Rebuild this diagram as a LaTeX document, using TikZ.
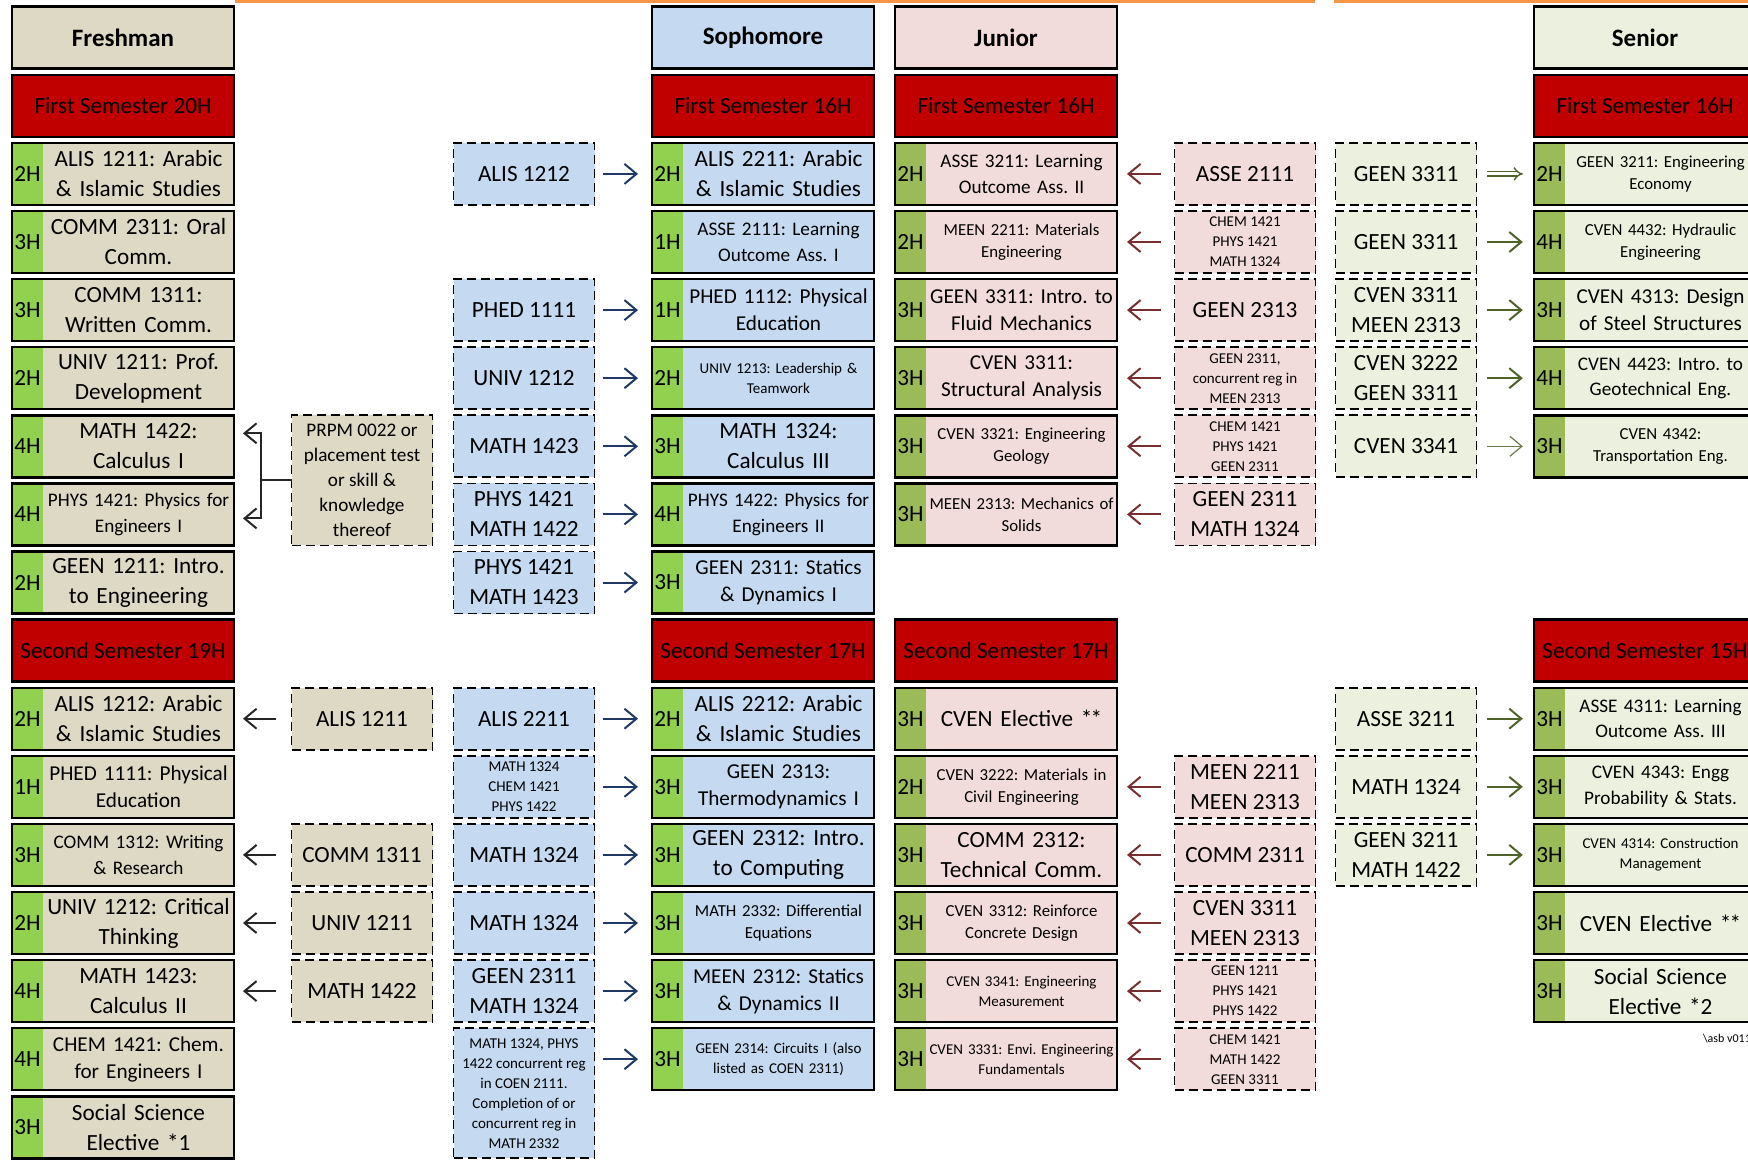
\documentclass[tikz,border=0pt]{standalone}
\usepackage{fontspec}
\setmainfont{Carlito}
\frenchspacing
\usetikzlibrary{positioning,arrows.meta}

\definecolor{freshfill}{HTML}{DDD9C4}
\definecolor{sophfill}{HTML}{C5D9F1}
\definecolor{junfill}{HTML}{F2DCDB}
\definecolor{senfill}{HTML}{EBF1DE}
\definecolor{semred}{HTML}{C00000}
\definecolor{hrsgreen}{HTML}{92D050}
\definecolor{hrsolive}{HTML}{9BBB59}
\definecolor{topline}{HTML}{F79646}
\definecolor{fresharr}{HTML}{262626}
\definecolor{sopharr}{HTML}{1F3864}
\definecolor{junarr}{HTML}{772E2E}
\definecolor{senarr}{HTML}{4F6228}

\begin{document}
\begin{tikzpicture}[node distance=3.05pt and 28.75pt,
  tbig/.style={font=\fontsize{11.6}{15}\selectfont},
  tmed/.style={font=\fontsize{10.6}{13.6}\selectfont},
  tmid/.style={font=\fontsize{9.6}{12.6}\selectfont},
  tsml/.style={font=\fontsize{8.4}{11}\selectfont},
  ttny/.style={font=\fontsize{7.5}{10}\selectfont},
  yearbox/.style={draw, line width=1.2pt, minimum width=111pt, minimum height=31pt,
    inner sep=0pt, outer sep=0pt, font=\fontsize{12.5}{15}\selectfont\bfseries},
  sembox/.style={yearbox, fill=semred, font=\fontsize{11.6}{14}\selectfont},
  crs/.style={draw, line width=1.2pt, minimum width=111pt, minimum height=31pt,
    inner xsep=0.5pt, inner ysep=0pt, outer sep=0pt, text width=110pt, align=center,
    execute at begin node={\leftskip=15.5pt plus 1fil\rightskip=0pt plus 1fil%
      \parfillskip=0pt\let\\=\endgraf},
    label={[hrs]west:#1}},
  hrs/.style={anchor=center, xshift=7.75pt, inner sep=0pt, font=\fontsize{11.6}{14}\selectfont},
  hstrip/.style={path picture={\fill[#1] (path picture bounding box.north west)
    rectangle ([xshift=15.5pt]path picture bounding box.south west);}},
  fcrs/.style={crs=#1, fill=freshfill, hstrip=hrsgreen},
  scrs/.style={crs=#1, fill=sophfill, hstrip=hrsgreen},
  jcrs/.style={crs=#1, fill=junfill, hstrip=hrsolive},
  ncrs/.style={crs=#1, fill=senfill, hstrip=hrsolive},
  pre/.style={draw, dash pattern=on 4.5pt off 2.5pt, line width=0.9pt, minimum width=70.5pt,
    minimum height=31pt, inner sep=0pt, outer sep=0pt, align=center},
  fpre/.style={pre, fill=freshfill},
  spre/.style={pre, fill=sophfill},
  jpre/.style={pre, fill=junfill},
  npre/.style={pre, fill=senfill},
  arr/.style={line width=1pt, -{Straight Barb[length=6pt, width=10pt]}},
  farr/.style={arr, draw=fresharr, shorten <=7.8pt, shorten >=4.5pt},
  sarr/.style={arr, draw=sopharr, shorten <=4pt, shorten >=7pt},
  jarr/.style={arr, draw=junarr, shorten <=6.8pt, shorten >=5pt},
  narr/.style={arr, draw=senarr, shorten <=5pt, shorten >=5.6pt},
  narr2/.style={draw=senarr, line width=0.7pt, double=white, double distance=1.6pt,
    -{Implies}, shorten <=5pt, shorten >=5.6pt}]

  \useasboundingbox (0,0) rectangle (874pt,-580pt);
  \draw[topline, line width=1.6pt] (117.5pt,-0.8pt) -- (657.5pt,-0.8pt)
    (667pt,-0.8pt) -- (874pt,-0.8pt);

  % Freshman
  \node[yearbox, fill=freshfill] (fresh) at (61.5pt,-18.85pt) {Freshman};
  \node[sembox, below=of fresh] (fr sem1) {First Semester 20H};
  \node[fcrs=2H, tbig, below=of fr sem1] (fr 1) {ALIS 1211: Arabic\\ \& Islamic Studies};
  \node[fcrs=3H, tbig, below=of fr 1] (fr 2) {COMM 2311: Oral\\ Comm.};
  \node[fcrs=3H, tbig, below=of fr 2] (fr 3) {COMM 1311:\\ Written Comm.};
  \node[fcrs=2H, tbig, below=of fr 3] (fr 4) {UNIV 1211: Prof.\\ Development};
  \node[fcrs=4H, tbig, below=of fr 4] (fr 5) {MATH 1422:\\ Calculus I};
  \node[fcrs=4H, tmid, below=of fr 5] (fr 6) {PHYS 1421: Physics for\\ Engineers I};
  \node[fcrs=2H, tbig, below=of fr 6] (fr 7) {GEEN 1211: Intro.\\ to Engineering};
  \node[sembox, below=of fr 7] (fr sem2) {Second Semester 19H};
  \node[fcrs=2H, tbig, below=of fr sem2] (fr 8) {ALIS 1212: Arabic\\ \& Islamic Studies};
  \node[fcrs=1H, tmed, below=of fr 8] (fr 9) {PHED 1111: Physical\\ Education};
  \node[fcrs=3H, tmid, below=of fr 9] (fr 10) {COMM 1312: Writing\\ \& Research};
  \node[fcrs=2H, tbig, below=of fr 10] (fr 11) {UNIV 1212: Critical\\ Thinking};
  \node[fcrs=4H, tbig, below=of fr 11] (fr 12) {MATH 1423:\\ Calculus II};
  \node[fcrs=4H, tmed, below=of fr 12] (fr 13) {CHEM 1421: Chem.\\ for Engineers I};
  \node[fcrs=3H, tbig, below=of fr 13] (fr 14) {Social Science\\ Elective *1};

  \node[fpre, tmid, minimum height=65.05pt, anchor=north west] (prpm)
    at ([xshift=28.75pt]fr 5.north east)
    {PRPM 0022 or\\ placement test\\ or skill \&\\ knowledge\\ thereof};
  \node[fpre, tbig, right=of fr 8] (fr p8) {ALIS 1211};
  \node[fpre, tbig, right=of fr 10] (fr p10) {COMM 1311};
  \node[fpre, tbig, right=of fr 11] (fr p11) {UNIV 1211};
  \node[fpre, tbig, right=of fr 12] (fr p12) {MATH 1422};

  \draw[line width=1pt, draw=fresharr] (prpm.west) -- ++(-15.5pt,0) coordinate (brk);
  \draw[farr, shorten <=0pt] (brk) |- ([yshift=6.5pt]fr 5.east);
  \draw[farr, shorten <=0pt] (brk) |- ([yshift=-2pt]fr 6.east);
  \draw[farr] (fr p8) -- (fr 8);
  \draw[farr] (fr p10) -- (fr 10);
  \draw[farr] (fr p11) -- (fr 11);
  \draw[farr] (fr p12) -- (fr 12);

  % Sophomore
  \node[yearbox, fill=sophfill, right=209pt of fresh] (soph) {Sophomore};
  \node[sembox, below=of soph] (so sem1) {First Semester 16H};
  \node[scrs=2H, tbig, below=of so sem1] (so 1) {ALIS 2211: Arabic\\ \& Islamic Studies};
  \node[scrs=1H, tmid, below=of so 1] (so 2) {ASSE 2111: Learning\\ Outcome Ass. I};
  \node[scrs=1H, tmed, below=of so 2] (so 3) {PHED 1112: Physical\\ Education};
  \node[scrs=2H, ttny, below=of so 3] (so 4) {UNIV 1213: Leadership \&\\ Teamwork};
  \node[scrs=3H, tbig, below=of so 4] (so 5) {MATH 1324:\\ Calculus III};
  \node[scrs=4H, tmid, below=of so 5] (so 6) {PHYS 1422: Physics for\\ Engineers II};
  \node[scrs=3H, tmed, below=of so 6] (so 7) {GEEN 2311: Statics\\ \& Dynamics I};
  \node[sembox, below=of so 7] (so sem2) {Second Semester 17H};
  \node[scrs=2H, tbig, below=of so sem2] (so 8) {ALIS 2212: Arabic\\ \& Islamic Studies};
  \node[scrs=3H, tmed, below=of so 8] (so 9) {GEEN 2313:\\ Thermodynamics I};
  \node[scrs=3H, tbig, below=of so 9] (so 10) {GEEN 2312: Intro.\\ to Computing};
  \node[scrs=3H, tsml, below=of so 10] (so 11) {MATH 2332: Differential\\ Equations};
  \node[scrs=3H, tmed, below=of so 11] (so 12) {MEEN 2312: Statics\\ \& Dynamics II};
  \node[scrs=3H, ttny, below=of so 12] (so 13) {GEEN 2314: Circuits I (also\\ listed as COEN 2311)};

  \node[spre, tbig, left=of so 1] (so p1) {ALIS 1212};
  \node[spre, tbig, left=of so 3] (so p3) {PHED 1111};
  \node[spre, tbig, left=of so 4] (so p4) {UNIV 1212};
  \node[spre, tbig, left=of so 5] (so p5) {MATH 1423};
  \node[spre, tbig, left=of so 6] (so p6) {PHYS 1421\\ MATH 1422};
  \node[spre, tbig, left=of so 7] (so p7) {PHYS 1421\\ MATH 1423};
  \node[spre, tbig, left=of so 8] (so p8) {ALIS 2211};
  \node[spre, ttny, left=of so 9] (so p9) {MATH 1324\\ CHEM 1421\\ PHYS 1422};
  \node[spre, tbig, left=of so 10] (so p10) {MATH 1324};
  \node[spre, tbig, left=of so 11] (so p11) {MATH 1324};
  \node[spre, tbig, left=of so 12] (so p12) {GEEN 2311\\ MATH 1324};
  \node[spre, ttny, minimum height=65.05pt, anchor=north east] (so p13)
    at ([xshift=-28.75pt]so 13.north west)
    {MATH 1324, PHYS\\ 1422 concurrent reg\\ in COEN 2111.\\ Completion of or\\ concurrent reg in\\ MATH 2332};

  \foreach \r in {1,3,4,5,6,7,8,9,10,11,12}
    \draw[sarr] (so p\r) -- (so \r);
  \draw[sarr] (so p13.east |- so 13) -- (so 13);

  % Junior
  \node[yearbox, fill=junfill, right=10.5pt of soph] (jun) {Junior};
  \node[sembox, below=of jun] (jr sem1) {First Semester 16H};
  \node[jcrs=2H, tmid, below=of jr sem1] (jr 1) {ASSE 3211: Learning\\ Outcome Ass. II};
  \node[jcrs=2H, tsml, below=of jr 1] (jr 2) {MEEN 2211: Materials\\ Engineering};
  \node[jcrs=3H, tmed, below=of jr 2] (jr 3) {GEEN 3311: Intro. to\\ Fluid Mechanics};
  \node[jcrs=3H, tmed, below=of jr 3] (jr 4) {CVEN 3311:\\ Structural Analysis};
  \node[jcrs=3H, tsml, below=of jr 4] (jr 5) {CVEN 3321: Engineering\\ Geology};
  \node[jcrs=3H, tsml, below=of jr 5] (jr 6) {MEEN 2313: Mechanics of\\ Solids};
  \node[sembox, right=10.5pt of so sem2] (jr sem2) {Second Semester 17H};
  \node[jcrs=3H, tbig, below=of jr sem2] (jr 7) {CVEN Elective *\kern-0.08em*};
  \node[jcrs=2H, tsml, below=of jr 7] (jr 8) {CVEN 3222: Materials in\\ Civil Engineering};
  \node[jcrs=3H, tbig, below=of jr 8] (jr 9) {COMM 2312:\\ Technical Comm.};
  \node[jcrs=3H, tsml, below=of jr 9] (jr 10) {CVEN 3312: Reinforce\\ Concrete Design};
  \node[jcrs=3H, ttny, below=of jr 10] (jr 11) {CVEN 3341: Engineering\\ Measurement};
  \node[jcrs=3H, ttny, below=of jr 11] (jr 12) {CVEN 3331: Envi. Engineering\\ Fundamentals};

  \node[jpre, tbig, right=of jr 1] (jr p1) {ASSE 2111};
  \node[jpre, ttny, right=of jr 2] (jr p2) {CHEM 1421\\ PHYS 1421\\ MATH 1324};
  \node[jpre, tbig, right=of jr 3] (jr p3) {GEEN 2313};
  \node[jpre, ttny, right=of jr 4] (jr p4) {GEEN 2311,\\ concurrent reg in\\ MEEN 2313};
  \node[jpre, ttny, right=of jr 5] (jr p5) {CHEM 1421\\ PHYS 1421\\ GEEN 2311};
  \node[jpre, tbig, right=of jr 6] (jr p6) {GEEN 2311\\ MATH 1324};
  \node[jpre, tbig, right=of jr 8] (jr p8) {MEEN 2211\\ MEEN 2313};
  \node[jpre, tbig, right=of jr 9] (jr p9) {COMM 2311};
  \node[jpre, tbig, right=of jr 10] (jr p10) {CVEN 3311\\ MEEN 2313};
  \node[jpre, ttny, right=of jr 11] (jr p11) {GEEN 1211\\ PHYS 1421\\ PHYS 1422};
  \node[jpre, ttny, right=of jr 12] (jr p12) {CHEM 1421\\ MATH 1422\\ GEEN 3311};

  \foreach \r in {1,2,3,4,5,6,8,9,10,11,12}
    \draw[jarr] (jr p\r) -- (jr \r);

  % Senior
  \node[yearbox, fill=senfill, right=208.5pt of jun] (sen) {Senior};
  \node[sembox, below=of sen] (sn sem1) {First Semester 16H};
  \node[ncrs=2H, tsml, below=of sn sem1] (sn 1) {GEEN 3211: Engineering\\ Economy};
  \node[ncrs=4H, tsml, below=of sn 1] (sn 2) {CVEN 4432: Hydraulic\\ Engineering};
  \node[ncrs=3H, tmed, below=of sn 2] (sn 3) {CVEN 4313: Design\\ of Steel Structures};
  \node[ncrs=4H, tmid, below=of sn 3] (sn 4) {CVEN 4423: Intro. to\\ Geotechnical Eng.};
  \node[ncrs=3H, tsml, below=of sn 4] (sn 5) {CVEN 4342:\\ Transportation Eng.};
  \node[sembox, right=208.5pt of jr sem2] (sn sem2) {Second Semester 15H};
  \node[ncrs=3H, tmid, below=of sn sem2] (sn 6) {ASSE 4311: Learning\\ Outcome Ass. III};
  \node[ncrs=3H, tmid, below=of sn 6] (sn 7) {CVEN 4343: Engg\\ Probability \& Stats.};
  \node[ncrs=3H, ttny, below=of sn 7] (sn 8) {CVEN 4314: Construction\\ Management};
  \node[ncrs=3H, tbig, below=of sn 8] (sn 9) {CVEN Elective *\kern-0.08em*};
  \node[ncrs=3H, tbig, below=of sn 9] (sn 10) {Social Science\\ Elective *2};
  \node[font=\fontsize{6}{7}\selectfont, anchor=west] (ver) at (848pt,-519.5pt)
    {\textbackslash asb v0111};

  \node[npre, tbig, left=of sn 1] (sn p1) {GEEN 3311};
  \node[npre, tbig, left=of sn 2] (sn p2) {GEEN 3311};
  \node[npre, tbig, left=of sn 3] (sn p3) {CVEN 3311\\ MEEN 2313};
  \node[npre, tbig, left=of sn 4] (sn p4) {CVEN 3222\\ GEEN 3311};
  \node[npre, tbig, left=of sn 5] (sn p5) {CVEN 3341};
  \node[npre, tbig, left=of sn 6] (sn p6) {ASSE 3211};
  \node[npre, tbig, left=of sn 7] (sn p7) {MATH 1324};
  \node[npre, tbig, left=of sn 8] (sn p8) {GEEN 3211\\ MATH 1422};

  \draw[narr2] (sn p1) -- (sn 1);
  \foreach \r in {2,3,4,6,7,8}
    \draw[narr] (sn p\r) -- (sn \r);
  \draw[narr, line width=0.6pt, draw=senarr!85] (sn p5) -- (sn 5);
\end{tikzpicture}
\end{document}
